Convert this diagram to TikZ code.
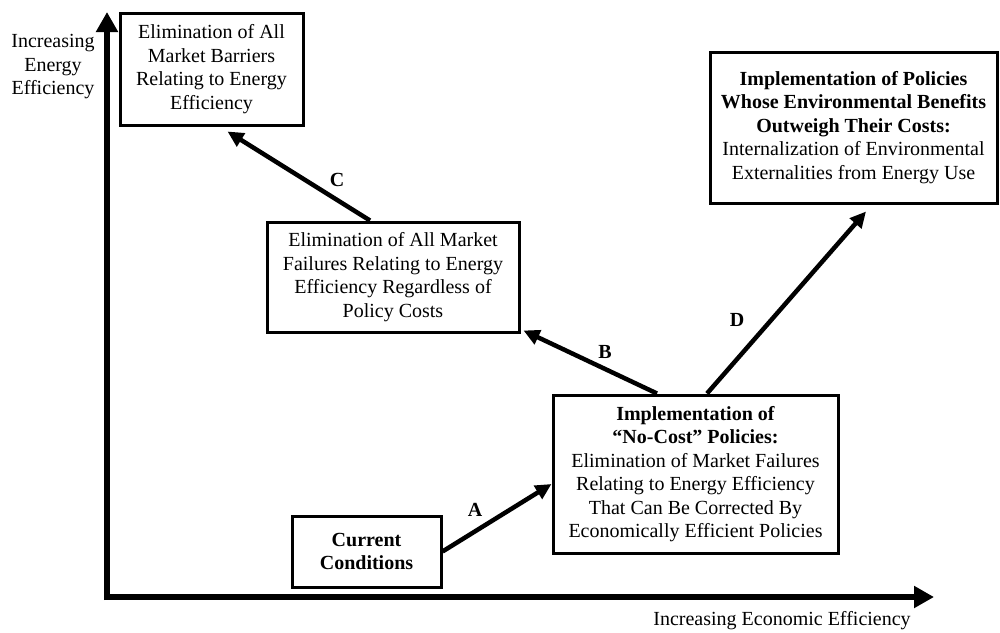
\documentclass[tikz,border=0pt]{standalone}
\usepackage{fontspec}
\setmainfont{Liberation Serif}
\usetikzlibrary{arrows.meta}
\begin{document}
\begin{tikzpicture}[x=1pt,y=-1pt,
  every node/.style={font=\fontsize{20}{23.5}\selectfont},
  box/.style={draw, line width=3pt, align=center, inner sep=0pt},
  conn/.style={line width=4.5pt, -{Triangle[length=16pt,width=15pt]}},
  axis/.style={line width=6.5pt, -{Triangle[length=20pt,width=21pt]}},
  lab/.style={font=\fontsize{20}{23.5}\selectfont\bfseries}]
\useasboundingbox (0,0) rectangle (1000,632);
% axes
\coordinate (ytop) at (107,12);
\coordinate (ybot) at (107,600);
\coordinate (xl) at (104,597);
\coordinate (xr) at (934,597);
\draw[axis] (ybot) -- (ytop);
\draw[axis] (xl) -- (xr);
\node[align=center] (ylab) at (53,67) {Increasing\\Energy\\Efficiency};
\node (xlab) at (782,621) {Increasing Economic Efficiency};
% boxes
\node[box, minimum width=183pt, minimum height=112pt] (bar) at (211.5,69)
  {Elimination of All\\Market Barriers\\Relating to Energy\\Efficiency};
\node[box, minimum width=252pt, minimum height=110pt] (fail) at (393,277)
  {Elimination of All Market\\Failures Relating to Energy\\Efficiency Regardless of\\Policy Costs};
\node[box, minimum width=287pt, minimum height=151pt] (env) at (853.5,127.5)
  {\textbf{Implementation of Policies}\\\textbf{Whose Environmental Benefits}\\\textbf{Outweigh Their Costs:}\\Internalization of Environmental\\Externalities from Energy Use};
\node[box, minimum width=285pt, minimum height=158pt] (nc) at (695.5,474)
  {\textbf{Implementation of}\\\textbf{“No-Cost” Policies:}\\Elimination of Market Failures\\Relating to Energy Efficiency\\That Can Be Corrected By\\Economically Efficient Policies};
\node[box, minimum width=149pt, minimum height=71pt, font=\fontsize{20}{23.5}\selectfont\bfseries] (cur) at (366.5,551.5)
  {Current\\Conditions};
% connectors
\draw[conn] (cur.east) -- ([yshift=-10pt]nc.west);
\draw[conn] ([xshift=-38.5pt]nc.north) -- ([xshift=3pt,yshift=3pt]fail.south east);
\draw[conn] ([xshift=-23pt]fail.north) -- ([xshift=16pt,yshift=-5pt]bar.south);
\draw[conn] ([xshift=11.5pt]nc.north) -- ([xshift=12.5pt,yshift=-7pt]env.south);
% labels
\node[lab] (la) at (475,510) {A};
\node[lab] (lb) at (605,352) {B};
\node[lab] (lc) at (337,180) {C};
\node[lab] (ld) at (737,320) {D};
\end{tikzpicture}
\end{document}
